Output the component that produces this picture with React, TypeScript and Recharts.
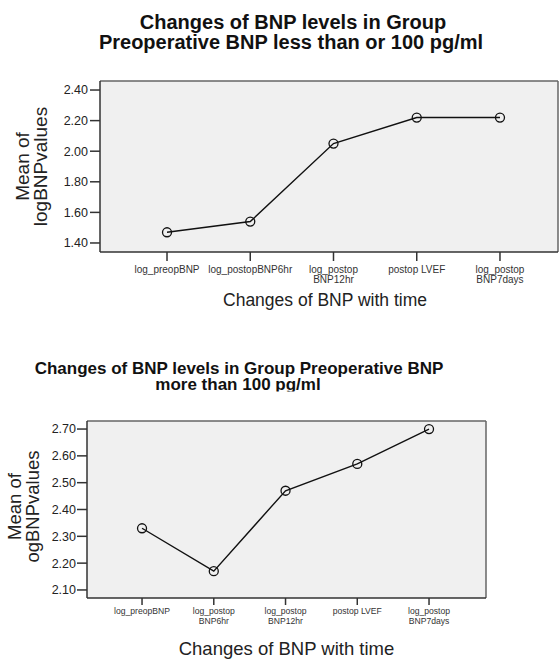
import React from 'react';
import { LineChart, Line, XAxis, YAxis, CartesianGrid, ReferenceLine } from 'recharts';

const FONT = '"Liberation Sans", Arial, Helvetica, sans-serif';

// ---------- data ----------
const topCategories = ['log_preopBNP', 'log_postopBNP6hr', 'log_postop\nBNP12hr', 'postop LVEF', 'log_postop\nBNP7days'];
const topValues = [1.47, 1.54, 2.05, 2.22, 2.22];
const topTicks = [1.4, 1.6, 1.8, 2.0, 2.2, 2.4];

const bottomCategories = ['log_preopBNP', 'log_postop\nBNP6hr', 'log_postop\nBNP12hr', 'postop LVEF', 'log_postop\nBNP7days'];
const bottomValues = [2.33, 2.17, 2.47, 2.57, 2.7];
const bottomTicks = [2.1, 2.2, 2.3, 2.4, 2.5, 2.6, 2.7];

const topTitle = ['Changes of BNP levels in Group', 'Preoperative BNP less than or 100 pg/ml'];
const bottomTitle = ['Changes of BNP levels in Group Preoperative BNP', 'more than 100 pg/ml'];
const xTitle = 'Changes of BNP with time';
const topYTitle = ['Mean of', 'logBNPvalues'];
const bottomYTitle = ['Mean of', 'ogBNPvalues'];

const topData = topCategories.map((c, i) => ({ idx: i, label: c, value: topValues[i] }));
const bottomData = bottomCategories.map((c, i) => ({ idx: i, label: c, value: bottomValues[i] }));
const catIdx = topCategories.map((_, i) => i);

// axis extents (the category slots plus the plot's outer margins)
const topXDomain: [number, number] = [-0.805, 4.697];
const topYDomain: [number, number] = [1.341, 2.459];
const bottomXDomain: [number, number] = [-0.767, 4.794];
const bottomYDomain: [number, number] = [2.07, 2.73];

// ---------- helpers ----------
const makeTick = (cats: string[], fontSize: number, firstDy: number, gap: number) => (props: any) => {
  const { x, y, payload } = props;
  const lines = String(cats[Math.round(payload.value)] ?? '').split('\n');
  return (
    <text x={x} y={y} textAnchor="middle" fontSize={fontSize} fill="#333" fontFamily={FONT}>
      {lines.map((l, i) => (
        <tspan key={i} x={x} dy={i === 0 ? firstDy : gap}>{l}</tspan>
      ))}
    </text>
  );
};

const makeYLabel = (lines: string[], fontSize: number, b1: number, b2: number, dyc: number) => (props: any) => {
  const vb = props.viewBox || {};
  const cy = (vb.y || 0) + (vb.height || 0) / 2 + dyc;
  const x0 = vb.x || 0;
  return (
    <g>
      <text x={x0 + b1} y={cy} transform={`rotate(-90, ${x0 + b1}, ${cy})`} textAnchor="middle"
        fontSize={fontSize} fill="#222" fontFamily={FONT}>
        {lines[0]}
      </text>
      <text x={x0 + b2} y={cy} transform={`rotate(-90, ${x0 + b2}, ${cy})`} textAnchor="middle"
        fontSize={fontSize} fill="#222" fontFamily={FONT}>
        {lines[1]}
      </text>
    </g>
  );
};

const makeXLabel = (text: string, fontSize: number, dx: number, baseline: number) => (props: any) => {
  const vb = props.viewBox || {};
  return (
    <text x={(vb.x || 0) + (vb.width || 0) / 2 + dx} y={(vb.y || 0) + baseline} textAnchor="middle"
      fontSize={fontSize} fill="#222" fontFamily={FONT}>
      {text}
    </text>
  );
};

const fmt = (v: number) => v.toFixed(2);

const AXIS = '#333';
const BORDER = '#666';

export default function App() {
  return (
    <div style={{ position: 'absolute', left: 0, top: 0, width: 560, height: 659, background: '#fff', fontFamily: FONT }}>
      {/* Top chart */}
      <div style={{ position: 'absolute', left: 0, top: 0 }}>
        <LineChart width={560} height={320} data={topData} margin={{ top: 81, right: 2, bottom: 0, left: 0 }}>
          <CartesianGrid horizontal={false} vertical={false} fill="#f0f0f0" fillOpacity={1} />
          <XAxis
            dataKey="idx"
            type="number"
            domain={topXDomain}
            allowDataOverflow
            ticks={catIdx}
            interval={0}
            height={68}
            tickSize={9}
            tickMargin={0}
            tick={makeTick(topCategories, 10, 11.5, 10)}
            axisLine={{ stroke: AXIS, strokeWidth: 1.5 }}
            tickLine={{ stroke: AXIS, strokeWidth: 1.5 }}
            label={makeXLabel(xTitle, 17.5, -4, 53.5)}
          />
          <YAxis
            type="number"
            width={100}
            domain={topYDomain}
            allowDataOverflow
            ticks={topTicks}
            tickFormatter={fmt}
            tickSize={10}
            tickMargin={2}
            tick={{ fontSize: 12.5, fill: '#222', fontFamily: FONT }}
            axisLine={{ stroke: AXIS, strokeWidth: 1.5 }}
            tickLine={{ stroke: AXIS, strokeWidth: 1.5 }}
            label={makeYLabel(topYTitle, 19, 28.7, 46.7, 0)}
          />
          <ReferenceLine y={topYDomain[1]} stroke={BORDER} strokeWidth={1.5} />
          <ReferenceLine x={topXDomain[1]} stroke={BORDER} strokeWidth={1.5} />
          <Line
            type="linear"
            dataKey="value"
            stroke="#111"
            strokeWidth={1.4}
            dot={{ r: 4.5, stroke: '#111', strokeWidth: 1.3, fill: 'none' }}
            activeDot={false}
            isAnimationActive={false}
          />
        </LineChart>
      </div>

      {/* Bottom chart */}
      <div style={{ position: 'absolute', left: 0, top: 330 }}>
        <LineChart width={560} height={329} data={bottomData} margin={{ top: 91, right: 74, bottom: 0, left: 0 }}>
          <CartesianGrid horizontal={false} vertical={false} fill="#f0f0f0" fillOpacity={1} />
          <XAxis
            dataKey="idx"
            type="number"
            domain={bottomXDomain}
            allowDataOverflow
            ticks={catIdx}
            interval={0}
            height={61}
            tickSize={7}
            tickMargin={0}
            tick={makeTick(bottomCategories, 8.6, 9, 10)}
            axisLine={{ stroke: AXIS, strokeWidth: 1.5 }}
            tickLine={{ stroke: AXIS, strokeWidth: 1.5 }}
            label={makeXLabel(xTitle, 18.5, 0, 57)}
          />
          <YAxis
            type="number"
            width={87}
            domain={bottomYDomain}
            allowDataOverflow
            ticks={bottomTicks}
            tickFormatter={fmt}
            tickSize={10}
            tickMargin={1}
            tick={{ fontSize: 12.5, fill: '#222', fontFamily: FONT }}
            axisLine={{ stroke: AXIS, strokeWidth: 1.5 }}
            tickLine={{ stroke: AXIS, strokeWidth: 1.5 }}
            label={makeYLabel(bottomYTitle, 18.5, 20.5, 38.5, -3)}
          />
          <ReferenceLine y={bottomYDomain[1]} stroke={BORDER} strokeWidth={1.5} />
          <ReferenceLine x={bottomXDomain[1]} stroke={BORDER} strokeWidth={1.5} />
          <Line
            type="linear"
            dataKey="value"
            stroke="#111"
            strokeWidth={1.4}
            dot={{ r: 4.5, stroke: '#111', strokeWidth: 1.3, fill: 'none' }}
            activeDot={false}
            isAnimationActive={false}
          />
        </LineChart>
      </div>

      {/* Titles */}
      <svg width={560} height={659} style={{ position: 'absolute', left: 0, top: 0, pointerEvents: 'none' }}>
        <defs>
          <clipPath id="t2clip">
            <rect x={0} y={340} width={560} height={51.5} />
          </clipPath>
        </defs>
        <text x={293} y={29.3} textAnchor="middle" fontSize={20} fontWeight="bold" fill="#111" fontFamily={FONT}>
          {topTitle[0]}
        </text>
        <text x={291} y={49} textAnchor="middle" fontSize={20} fontWeight="bold" fill="#111" fontFamily={FONT}>
          {topTitle[1]}
        </text>
        <g clipPath="url(#t2clip)">
          <text x={239} y={374} textAnchor="middle" fontSize={17} fontWeight="bold" fill="#111" fontFamily={FONT}>
            {bottomTitle[0]}
          </text>
          <text x={238} y={389.5} textAnchor="middle" fontSize={17} fontWeight="bold" fill="#111" fontFamily={FONT}>
            {bottomTitle[1]}
          </text>
        </g>
      </svg>
    </div>
  );
}
